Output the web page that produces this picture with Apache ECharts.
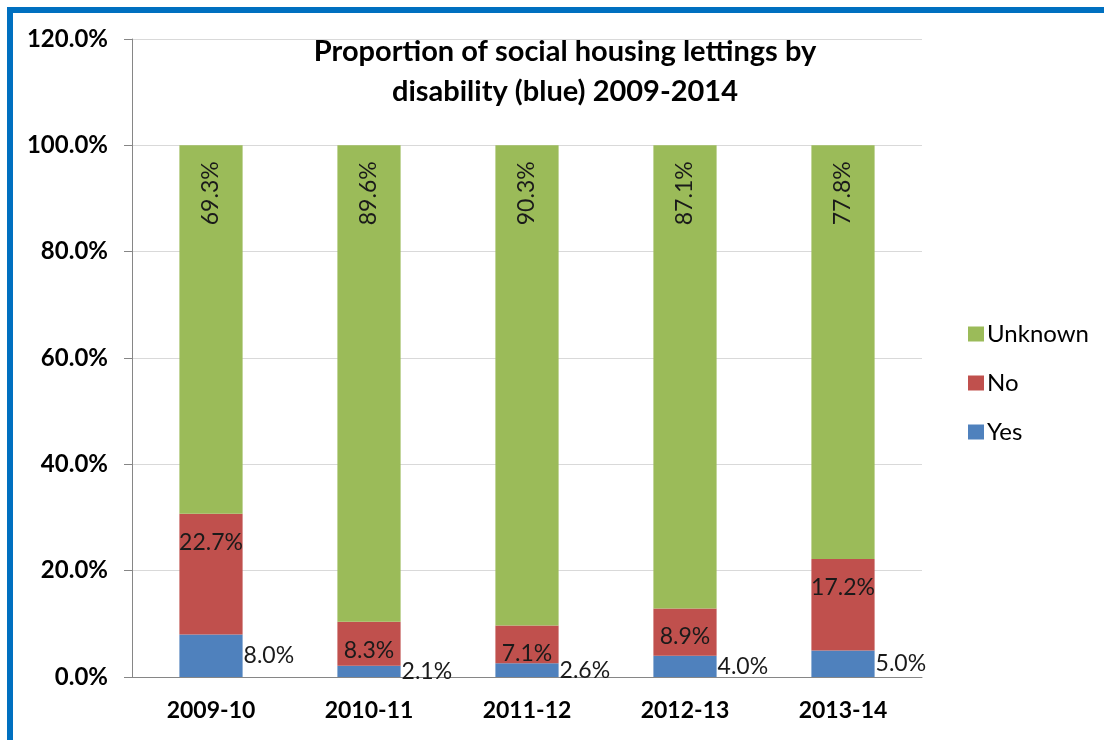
<!DOCTYPE html>
<html lang="en">
<head>
    <meta charset="UTF-8">
    <title>Proportion of social housing lettings by disability</title>
    <script src="https://cdn.jsdelivr.net/npm/echarts@6/dist/echarts.min.js"></script>
    <style>
        html, body { margin: 0; padding: 0; background: #fff; }
    </style>
</head>
<body>
<div id="main" style="width:1104px;height:740px;"></div>
<script type="text/javascript">
    // data
    var years = ['2009-10', '2010-11', '2011-12', '2012-13', '2013-14'];
    var yesVals = [8.0, 2.1, 2.6, 4.0, 5.0];
    var noVals = [22.7, 8.3, 7.1, 8.9, 17.2];
    var unknownVals = [69.3, 89.6, 90.3, 87.1, 77.8];
    var yTicks = [0, 20, 40, 60, 80, 100, 120];

    var font = 'Lato, "Open Sans", sans-serif';
    var pct = function (p) { return p.value.toFixed(1) + '%'; };

    var myChart = echarts.init(document.getElementById('main'));
    myChart.setOption({
        animation: false,
        title: {
            text: 'Proportion of social housing lettings by\ndisability (blue) 2009-2014',
            left: 560,
            textAlign: 'center',
            top: 27,
            textStyle: { fontFamily: font, fontWeight: 'bold', fontSize: 29, lineHeight: 40, color: '#000' }
        },
        legend: {
            orient: 'vertical',
            left: 963,
            top: 317,
            itemWidth: 16,
            itemHeight: 15,
            itemGap: 25,
            icon: 'rect',
            data: ['Unknown', 'No', 'Yes'],
            textStyle: { fontFamily: font, fontSize: 24, lineHeight: 24, color: '#000', padding: [0, 0, 0, -2] }
        },
        grid: { left: 132, right: 182, top: 39, bottom: 63 },
        xAxis: {
            type: 'category',
            data: years,
            axisLine: { lineStyle: { color: '#868686', width: 1 } },
            axisTick: { length: 8, lineStyle: { color: '#868686' } },
            axisLabel: { fontFamily: font, fontWeight: 'bold', fontSize: 23, color: '#000', margin: 22 }
        },
        yAxis: {
            type: 'value',
            min: yTicks[0],
            max: yTicks[yTicks.length - 1],
            interval: 20,
            axisLine: { show: true, lineStyle: { color: '#868686', width: 1 } },
            axisTick: { show: true, length: 8, lineStyle: { color: '#868686' } },
            splitLine: { lineStyle: { color: '#d9d9d9', width: 1 } },
            axisLabel: {
                fontFamily: font, fontWeight: 'bold', fontSize: 24, color: '#000', margin: 24,
                formatter: function (v) { return v.toFixed(1) + '%'; }
            }
        },
        series: [
            {
                name: 'Yes', type: 'bar', stack: 'all', barWidth: '40%',
                itemStyle: { color: '#4F81BD' },
                label: {
                    show: true, position: 'right', distance: 1,
                    fontFamily: font, fontSize: 23, color: '#1a1a1a', formatter: pct
                },
                data: yesVals
            },
            {
                name: 'No', type: 'bar', stack: 'all',
                itemStyle: { color: '#C0504D' },
                label: {
                    show: true, position: 'insideTop', distance: 17,
                    fontFamily: font, fontSize: 23, color: '#1a1a1a', formatter: pct
                },
                data: noVals
            },
            {
                name: 'Unknown', type: 'bar', stack: 'all',
                itemStyle: { color: '#9BBB59' },
                label: {
                    show: true, position: 'insideTop', distance: 16, rotate: 90,
                    align: 'right', verticalAlign: 'middle',
                    fontFamily: font, fontSize: 23, color: '#1a1a1a', formatter: pct
                },
                data: unknownVals
            }
        ],
        graphic: [
            { type: 'line', shape: { x1: 7, y1: 10, x2: 1104, y2: 10 }, style: { stroke: '#0070C0', lineWidth: 6 } },
            { type: 'line', shape: { x1: 10, y1: 7, x2: 10, y2: 740 }, style: { stroke: '#0070C0', lineWidth: 6 } }
        ]
    });
</script>
</body>
</html>
